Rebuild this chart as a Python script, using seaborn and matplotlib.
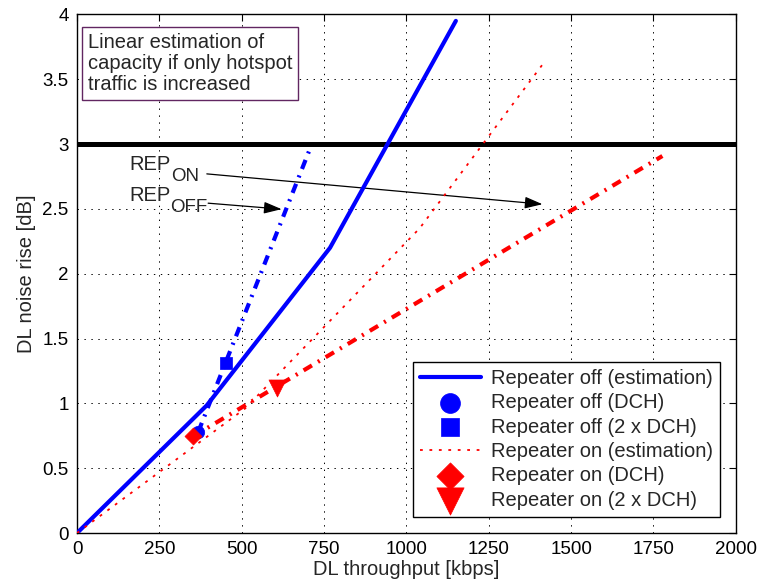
import matplotlib
matplotlib.use("Agg")
import matplotlib.pyplot as plt
import seaborn as sns
import pandas as pd

# Estimated noise-rise curves (piecewise linear)
rep_off_est_x = [0, 394, 768, 1150]
rep_off_est_y = [0, 0.985, 2.2, 3.95]
rep_on_est_x = [0, 510, 1040, 1415]
rep_on_est_y = [0, 0.96, 2.35, 3.62]

# Simulated points
rep_off_dch = (368, 0.78)
rep_off_2dch = (451, 1.31)
rep_on_dch = (353, 0.746)
rep_on_2dch = (606, 1.12)

# Linear extrapolation when only hotspot traffic grows
rep_off_lin_x = [368, 705]
rep_off_lin_y = [0.78, 2.95]
rep_on_lin_x = [353, 1777]
rep_on_lin_y = [0.746, 2.908]

noise_limit = 3.0

x_ticks = [0, 250, 500, 750, 1000, 1250, 1500, 1750, 2000]
y_ticks = [0, 0.5, 1, 1.5, 2, 2.5, 3, 3.5, 4]
y_tick_labels = ["0", "0.5", "1", "1.5", "2", "2.5", "3", "3.5", "4"]

sns.set_theme(style="white")
plt.rcParams["font.family"] = ["Liberation Sans", "DejaVu Sans"]
plt.rcParams["lines.scale_dashes"] = False
FS_TICK = 13.5
FS = 14.5

fig = plt.figure(figsize=(7.59, 5.88), dpi=100)
ax = fig.add_axes([0.1015, 0.0935, 0.868, 0.882])

BLUE = (0, 0, 1)
RED = (1, 0, 0)
dashdot = (0, (7, 5, 1.5, 5))
dotted = (0, (2.0, 4.8))

off_est = pd.DataFrame({"x": rep_off_est_x, "y": rep_off_est_y})
on_est = pd.DataFrame({"x": rep_on_est_x, "y": rep_on_est_y})
off_lin = pd.DataFrame({"x": rep_off_lin_x, "y": rep_off_lin_y})
on_lin = pd.DataFrame({"x": rep_on_lin_x, "y": rep_on_lin_y})

ax.axhline(noise_limit, color="black", lw=3.6, zorder=2)

sns.lineplot(data=off_lin, x="x", y="y", ax=ax, color=BLUE, lw=3,
             sort=False, estimator=None, linestyle=dashdot, zorder=3)
sns.lineplot(data=on_lin, x="x", y="y", ax=ax, color=RED, lw=3,
             sort=False, estimator=None, linestyle=dashdot, zorder=3)
sns.lineplot(data=off_est, x="x", y="y", ax=ax, color=BLUE, lw=3,
             sort=False, estimator=None, zorder=4)
sns.lineplot(data=on_est, x="x", y="y", ax=ax, color=RED, lw=1.3,
             sort=False, estimator=None, zorder=4)
ax.lines[-1].set_linestyle(dotted)

h_off_est = ax.lines[-2]
h_on_est = ax.lines[-1]

pts = [
    (rep_off_dch, "o", BLUE, 80),
    (rep_off_2dch, "s", BLUE, 70),
    (rep_on_dch, "D", RED, 75),
    (rep_on_2dch, "v", RED, 150),
]
scat = []
for (px, py), mk, col, s in pts:
    sns.scatterplot(x=[px], y=[py], ax=ax, marker=mk, color=col, s=s,
                    edgecolor=col, linewidth=0.5, zorder=5)
    scat.append(ax.collections[-1])

ax.set_xlim(0, 2000)
ax.set_ylim(0, 4)
ax.set_xticks(x_ticks)
ax.set_xticklabels([str(v) for v in x_ticks])
ax.set_yticks(y_ticks)
ax.set_yticklabels(y_tick_labels)
ax.tick_params(direction="in", length=5, width=0.8, top=True, right=True,
               labelsize=FS_TICK, pad=6, colors="black")
ax.grid(True, linestyle=(0, (1, 4)), color="black", lw=0.7)
for sp in ax.spines.values():
    sp.set_color("black")
    sp.set_linewidth(1.0)

ax.set_xlabel("DL throughput [kbps]", fontsize=FS, labelpad=1)
ax.set_ylabel("DL noise rise [dB]", fontsize=FS, labelpad=5)

# Explanatory box
ax.text(32, 3.86, "Linear estimation of\ncapacity if only hotspot\ntraffic is increased",
        fontsize=FS, va="top", ha="left", linespacing=1.15,
        bbox=dict(boxstyle="square,pad=0.3", fc="white", ec=(0.38, 0.15, 0.38), lw=1))

# REP_ON / REP_OFF labels with arrows
t_on = ax.text(160, 2.84, "REP", fontsize=FS, ha="left", va="center")
ax.annotate("ON", xy=(1, -0.12), xycoords=t_on, fontsize=FS - 1, ha="left", va="center")
t_off = ax.text(158, 2.6, "REP", fontsize=FS, ha="left", va="center")
ax.annotate("OFF", xy=(1, -0.12), xycoords=t_off, fontsize=FS - 1, ha="left", va="center")

ax.annotate("", xy=(1413, 2.536), xytext=(394, 2.77),
            arrowprops=dict(arrowstyle="-|>,head_length=0.9,head_width=0.3",
                            color="black", lw=0.9, shrinkA=0, shrinkB=0))
ax.annotate("", xy=(621, 2.498), xytext=(398, 2.544),
            arrowprops=dict(arrowstyle="-|>,head_length=0.9,head_width=0.3",
                            color="black", lw=0.9, shrinkA=0, shrinkB=0))

handles = [h_off_est, scat[0], scat[1], h_on_est, scat[2], scat[3]]
labels = ["Repeater off (estimation)", "Repeater off (DCH)", "Repeater off (2 x DCH)",
          "Repeater on (estimation)", "Repeater on (DCH)", "Repeater on (2 x DCH)"]
leg = ax.legend(handles, labels, loc="lower right", fontsize=FS, markerscale=1.6,
                frameon=True, fancybox=False, edgecolor="black", framealpha=1,
                handlelength=3.0, borderpad=0.35, labelspacing=0.27,
                handletextpad=0.5, borderaxespad=0.8)
leg.get_frame().set_linewidth(1.0)

fig.savefig("out.png", dpi=100)
